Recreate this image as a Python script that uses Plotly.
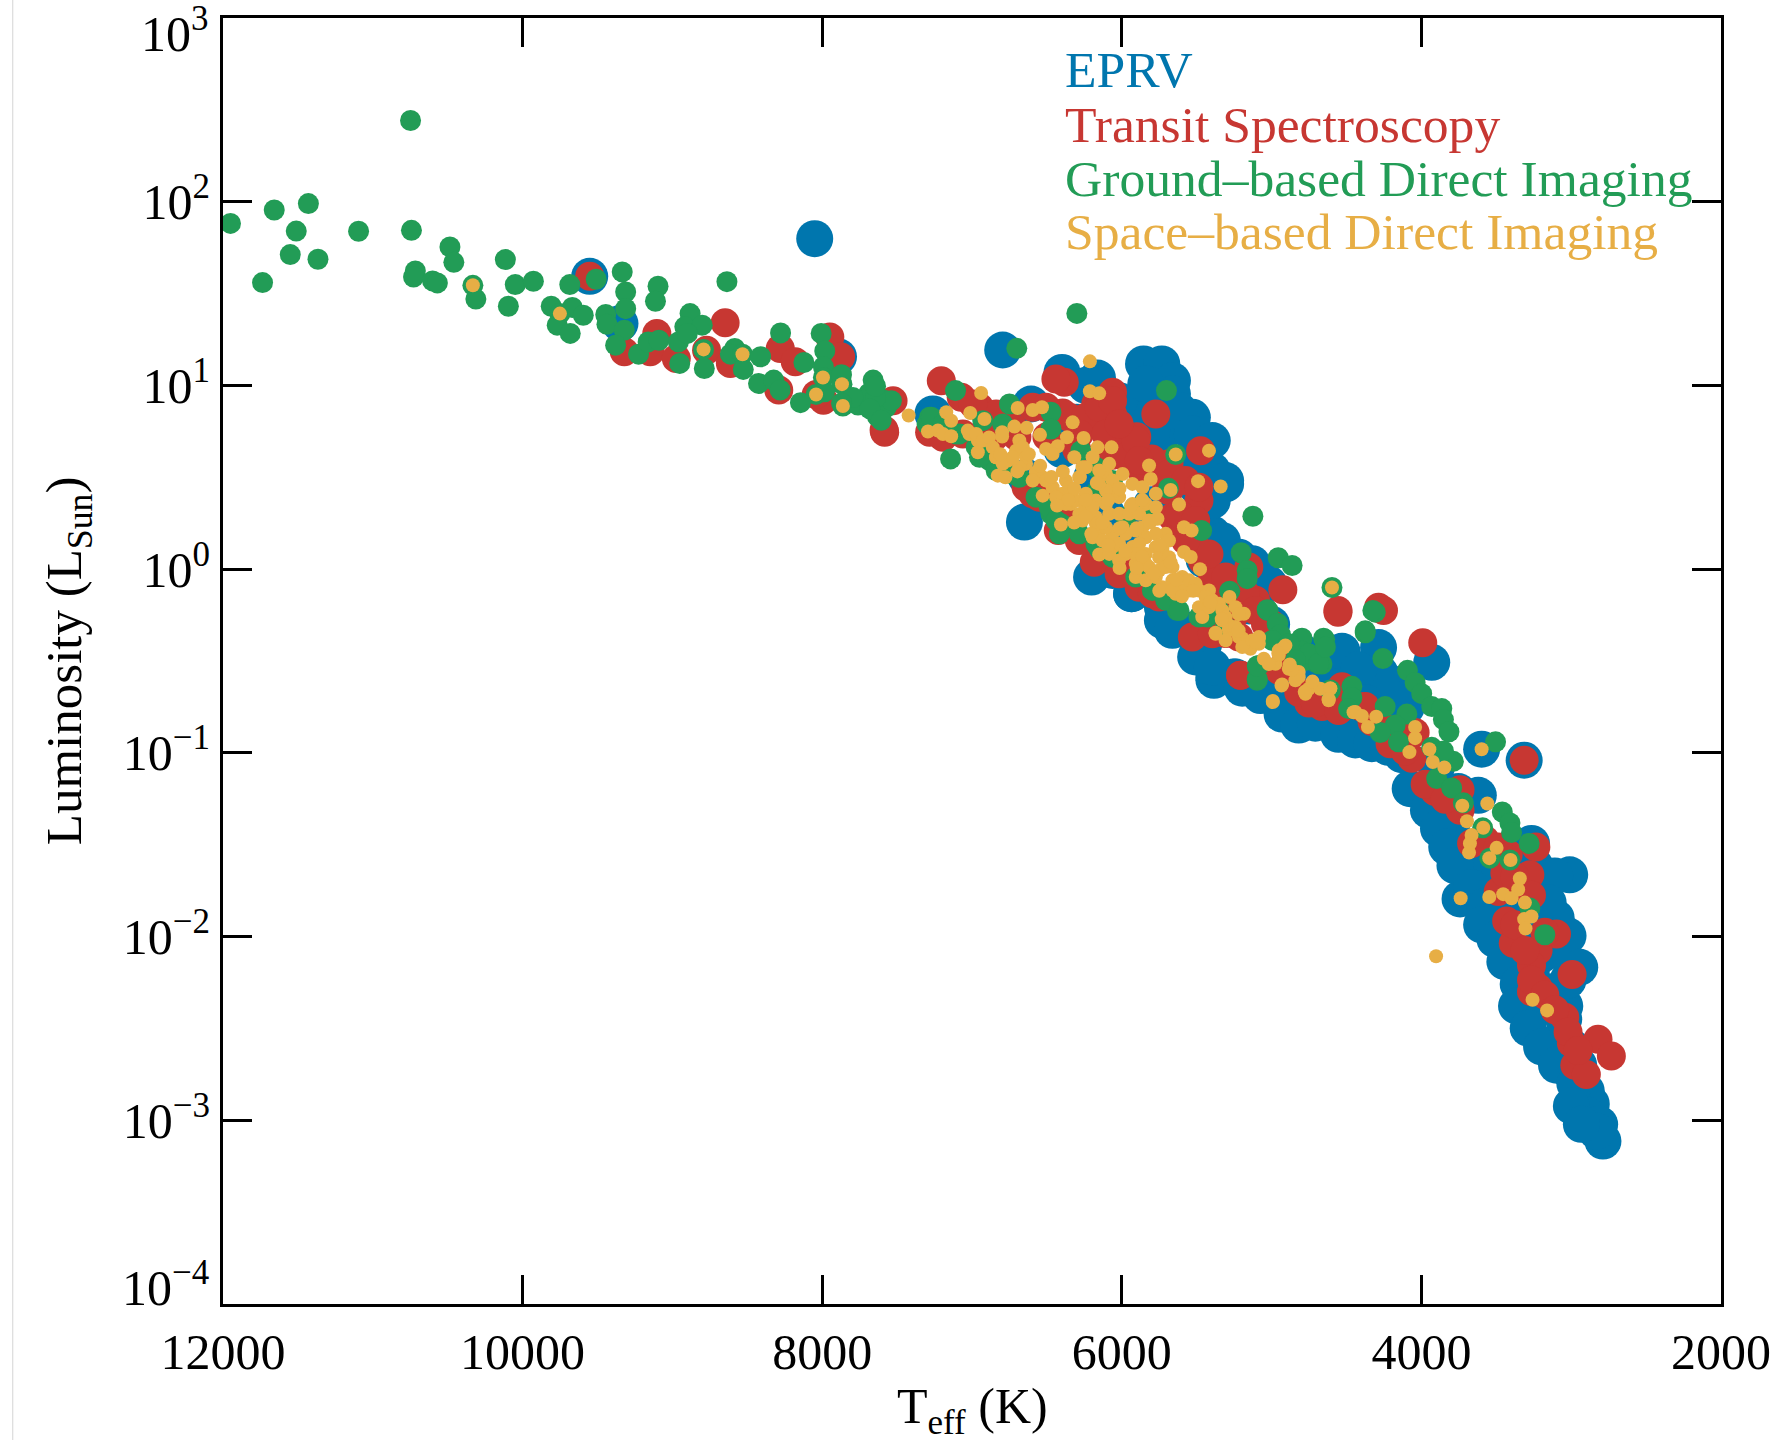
import plotly.graph_objects as go

eprv_teff = [8050,9552,9350,7891,6795,6399,6162,5855,5733,5662,5662,5862,5529,5485,5884,5729,5307,5485,6650,6202,5935,5596,5452,5385,5240,5296,5152,5396,5063,4530,4974,4841,6606,7261,6639,5729,6506,
 5385,5252,4986,4819,4619,4453,4220,4530,4286,3931,4275,4153,3598,3314,4075,3931,3798,3720,3665,3742,3509,3409,3265,3265,3243,3010,3110,3021,2943,3265,3043,3254,3187,2999,2899,2866,2888,2810,2788,2830,3753,3620,
 6100,6000,5900,5800,5600,5500,6300,6400,6200,6100,5950,5800,5600,5450,5350,5150,5000,4800,4700,4400,4100,4900,3900,3600,3500,3400,3300,3200,3100,3150,3050,3000,2950,
 6240,6018,5840,5618,5529,5396,5396,5307,5396,5329,5218,5130,5019,6062,5935,5729,5662,5507,5396,5196,5074,4930,4819,4708,4553,4441,4331,4220,4131,4530,4419,4175,4109,4708,4553,4375,4264,
 3953,3886,3831,3776,3665,3576,3598,3509,3443,3354,3365,3287,3198,3098,2976,2999,2932,3021,3132,3154]
eprv_log_lum = [1.799,1.594,1.337,1.156,1.193,1.071,1.04,1.117,1.117,1.026,.953,.935,.827,.663,.827,.736,.464,.573,.256,-.043,-.134,-.324,-.406,-.605,-.587,.093,.011,.192,-.043,-.488,-.705,-.77,.899,.845,.5,-.207,.373,
 -.587,-.587,-.668,-.809,-.829,-.899,-.95,-.467,-.427,-.507,-.567,-.688,-.98,-1.04,-1.195,-1.272,-1.412,-1.553,-1.664,-1.795,-1.936,-2.076,-2.177,-1.493,-1.614,-1.664,-1.67,-1.996,-2.167,-1.8,-2.378,-2.408,-2.59,-2.74,-2.841,-2.911,-2.972,-3.022,-3.113,-3.06,-1.211,-1.231,
 .9,.7,.6,.75,.55,.45,.8,.65,.5,.3,.2,.35,.25,.05,-.1,-.2,-.3,-.45,-.6,-.65,-.75,-.62,-1.08,-1.6,-1.7,-1.85,-1.95,-2.1,-1.9,-2.3,-2.45,-2.6,-2.7,
 1.0,.917,1.008,.863,.736,.7,.537,.482,.373,.156,.065,.03,-.08,-.007,-.134,-.279,-.333,-.478,-.533,-.648,-.688,-.789,-.849,-.839,-.899,-.93,-.95,-.97,-1.01,-.447,-.547,-.628,-.708,-.668,-.728,-.728,-.829,
 -1.312,-1.412,-1.513,-1.614,-1.734,-1.835,-1.936,-2.016,-2.137,-2.258,-2.378,-2.499,-2.6,-2.7,-2.8,-2.922,-3.022,-2.237,-2.076,-1.815]

transit_teff = [9552,8648,9321,9104,9148,8974,8772,8613,8280,8180,8290,7949,7877,7992,8040,7587,
 7205,7583,7527,7072,6950,7283,7194,6384,6440,6062,6173,6062,5773,5973,6195,6351,6595,5474,5685,5485,5685,5662,6595,6424,6184,5463,5929,5152,4925,4557,5751,5329,5107,5529,5307,5207,4730,4508,4286,6395,5884,5396,6062,
 4557,4253,3991,5207,4752,4664,4530,4330,4209,4064,4042,3909,3742,3742,3576,3420,3236,3314,3276,3487,3431,3098,3387,3221,3265,3221,3265,3043,2994,2999,2821,2732,2976,2899,
 5900,5800,5700,6000,6300,6500,6700,6850,6900,5600,5250,5000,4850,4950,4400,4300,
 6240,6151,6062,6284,6106,5973,5907,6018,5884,6506,6728,6839,6994,7061,5685,5574,5485,5618,5507,5507,5418,5574,5307,5174,5107,5041,5884,5796,5396,5218,4819,4641,4508,6639,6550,6373,6284,6018,
 4708,4553,4375,4242,4109,3975,3842,3665,3487,3443,3376,3265,3376,3176,3309,3265,3176,3110,3021,2954]
transit_log_lum = [1.594,1.341,1.183,1.283,1.183,1.147,1.192,1.12,1.201,1.129,.975,1.264,1.156,.92,.951,.757,
 1.026,.745,.917,.935,.881,.745,.718,1.017,1.035,.963,.9,.845,.845,.7,.79,.827,.881,.645,.573,.373,.428,.283,.41,.21,.038,.047,0,.011,-.112,-.234,-.152,-.098,-.17,-.37,-.35,-.578,-.696,-.66,-.207,.85,.555,-.04,.62,
 -.225,-.225,-.4,-.577,-.728,-.748,-.64,-.829,-.95,-1.03,-.889,-1.211,-1.201,-1.312,-1.473,-1.55,-1.513,-1.04,-1.664,-1.755,-1.915,-1.986,-2.036,-2.076,-2.157,-2.278,-2.3,-2.439,-2.207,-2.579,-2.559,-2.65,-2.7,-2.751,
 .72,.6,.45,.75,.65,.72,.72,.72,.66,.22,-.25,-.3,-.5,-.55,-.75,-.8,
 .827,.881,.917,.736,.736,.609,.7,.79,.591,.881,.772,.845,.899,.736,.518,.482,.446,.301,.265,.12,.083,.156,-.043,-.134,-.225,-.297,-.098,-.134,-.352,-.37,-.67,-.714,-.678,.446,.392,.265,.156,-.025,
 -.728,-.769,-.748,-.869,-.99,-1.171,-1.252,-1.493,-1.513,-1.654,-1.674,-1.775,-1.936,-1.976,-2.076,-2.237,-2.318,-2.398,-2.519,-2.62]

ground_teff = [11950,11658,11430,11511,11095,10742,10748,11551,11366,11736,10485,10459,10716,10728,10601,10569,10332,10312,10115,10049,9928,10095,9685,9509,9335,9312,9096,9113,8636,9809,9751,9668,9595,9769,9682,9312,9445,9437,9321,9379,9226,9162,9090,8882,8917,8801,8960,8900,8951,8787,8792,8584,8613,8532,8411,8527,8425,8324,8281,8278,8007,7983,8122,7992,7992,7868,8041,8145,7862,7761,7660,7689,7631,7587,
 6300,6701,7110,7572,7538,7283,7300,6750,6473,6473,6795,6928,7105,7143,6972,6883,6728,5702,5640,5689,5125,5467,5203,5163,5163,4956,4863,4597,5280,5023,4963,4801,4646,4308,4375,4708,5096,5085,5629,5485,6406,6473,6273,6173,6062,5973,5829,6173,6306,6417,6151,5796,5350,
 5030,4959,4941,4797,4653,4797,4775,4664,5096,5096,4324,4375,4257,4093,4042,3998,3931,3864,3853,3816,4097,4175,4275,4153,4242,4464,4464,4486,4608,3505,3931,3787,3853,3898,3798,3720,3591,3460,3409,3398,3281,3543,3409,3276,3176,
 7871,7985,7795,7644,7644,7682,7606,7871,6950,6839,6684,6573,6484,6439,6284,6173,6062,5907,5707,5618,5429,5307,4996,4885,4752,4686,4841,4641,7272,7194,7083]
ground_log_lum = [1.882,1.955,1.99,1.84,1.839,1.844,2.442,1.712,1.687,1.56,1.754,1.67,1.623,1.59,1.569,1.558,1.545,1.47,1.685,1.549,1.567,1.431,1.549,1.578,1.618,1.509,1.54,1.458,1.565,1.431,1.391,1.424,1.382,1.328,1.283,1.418,1.386,1.333,1.301,1.219,1.17,1.237,1.246,1.391,1.319,1.328,1.237,1.283,1.12,1.092,1.196,1.201,1.17,1.17,1.156,1.087,1.011,1.029,.975,1.286,1.283,1.188,1.125,1.101,1.043,1.007,.951,.906,.888,.893,1.029,.957,.83,.92,
 1.392,1.202,.972,.881,.917,.827,.79,.899,.854,.763,.79,.808,.736,.6,.664,.591,.518,.972,.624,.44,.288,.21,.089,-.007,-.052,.062,.02,-.1,-.12,-.225,-.297,-.379,-.382,-.234,-.346,-.506,-.605,-.524,-.225,-.26,.247,.3,.645,.555,.482,.283,.319,.419,.228,.192,.11,-.116,-.225,
 -.221,-.296,-.356,-.376,-.376,-.447,-.497,-.517,-.598,-.527,-.225,-.336,-.487,-.551,-.618,-.678,-.748,-.759,-.819,-.885,-.789,-.849,-.889,-.94,-.748,-.638,-.698,-.759,-.658,-.94,-.97,-1.046,-.99,-1.14,-1.191,-1.272,-1.408,-1.322,-1.382,-1.433,-1.493,-1.573,-1.583,-1.845,-1.99,
 1.058,.965,.934,.934,.996,.872,.81,.903,.609,.537,.5,.392,.337,.265,.192,.138,.065,-.043,-.17,-.225,-.261,-.315,-.388,-.406,-.46,-.515,-.496,-.424,.827,.79,.736]

space_teff = [10332,9751,8792,8532,7995,7868,8041,7862,
 7423,7294,7228,7194,7139,7172,7139,6939,7012,6917,7028,6961,6961,6695,6595,6533,6213,6213,6151,6328,6717,6635,6799,6799,6546,6366,6255,6069,6162,6428,6506,6462,6684,6706,6761,6839,6828,6777,6528,6406,5818,5807,5640,5418,5674,5491,5340,5618,5585,5534,5585,5540,6151,4597,4934,4992,5478,5707,
 6639,6573,6528,6462,6395,6340,6284,6262,6317,6195,6084,6106,5995,5929,5862,5773,5840,5773,5762,5929,6018,6173,6240,6373,6173,6084,6151,6195,6062,5995,5907,5840,6062,5973,5907,5840,5729,5685,5818,5907,5840,5751,5662,5596,5729,5640,5551,5485,5418,5396,5485,5463,5352,5281,5241,5185,5329,5285,5374,5218,5174,5085,5085,5141,5052,4952,4908,4974,4885,4819,4841,4752,4774,4675,4608,4619,4441,
 4930,4992,4453,4397,4302,4357,4042,4042,4080,3947,3924,3847,3727,3560,3696,3587,3665,3676,3682,3498,3547,3405,3343,3354,3454,3398,3547,3738,3309,3265,3314,3305,3902,3258,3161,3598,4608,4619,4779,4819,4863,4952,5019,4919,5085,5141,5196,5285,5374,5219,
 7017,6972,6928,6861,6839,6795,6728,6661,6639,6684,6595,6506,6439,6373,6306,6240,6262,6351,6284,6240,6151,6062,6040,6106,6151,6195,6106,6018,5951,5884,5818,5862,5973,6106,6173,6129,6018,6084,6018,5929,5884,5773,5773,5907,5840,5751,5685,5707,5773,5662,5596,5662,5551,5507,5440,5418,5329,5307,5241,5307,5196,5130,
 6621,6545,6470,6394,6318,6242,6280,6167,6091,6015,5939,5864,5811,5901,6015,6129,6242,6356,6091,5977,5864,5750,5674,5788,5901,6015,5636,5750,5523,5409,5598,5333,5220,5106,4955,4879,4727,6204,6318,6432,6697,6811,6886]
space_log_lum = [1.545,1.391,1.196,1.17,1.043,1.007,.951,.888,
 .836,.749,.754,.736,.723,.854,.808,.959,.85,.817,.754,.7,.636,.877,.866,.881,1.131,.968,.957,.799,.776,.769,.745,.722,.731,.718,.714,.663,.663,.669,.654,.627,.7,.645,.591,.609,.509,.5,.4,.243,.564,.491,.624,.645,.431,.479,.45,.352,.228,.21,.093,.066,.08,-.1,-.633,-.723,0,.192,
 .573,.528,.5,.446,.41,.355,.3,.555,.609,.609,.573,.518,.518,.464,.446,.41,.355,.337,.274,.355,.392,.373,.41,.482,.283,.301,.21,.174,.192,.228,.21,.174,.12,.083,.029,.083,.111,.156,.011,-.043,-.061,-.007,.011,-.043,-.098,-.134,-.116,-.116,-.116,-.17,-.207,-.261,-.188,-.152,-.207,-.243,-.279,-.333,-.352,-.37,-.406,-.37,-.406,-.433,-.488,-.442,-.415,-.515,-.542,-.56,-.605,-.651,-.678,-.651,-.651,-.714,-.777,
 -.628,-.718,-.779,-.799,-.803,-.859,-.859,-.92,-.996,-.98,-1.05,-1.08,-1.288,-1.276,-1.372,-1.408,-1.447,-1.493,-1.543,-1.517,-1.573,-1.583,-1.684,-1.744,-1.769,-1.791,-1.785,-1.791,-1.815,-1.891,-1.905,-1.956,-2.107,-2.344,-2.402,-.98,-.648,-.708,-.668,-.588,-.547,-.467,-.517,-.427,-.376,-.417,-.376,-.306,-.346,-.245,
 .736,.736,.7,.663,.609,.573,.609,.663,.609,.555,.482,.482,.392,.355,.373,.337,.265,.446,.5,.555,.537,.482,.428,.428,.464,.337,.355,.301,.301,.301,.265,.228,.192,.228,.247,.156,.138,.083,.047,.12,.138,.192,.12,.083,.029,.065,.065,.011,-.043,-.061,-.116,-.116,-.061,-.08,-.152,-.207,-.225,-.261,-.315,-.388,-.424,-.388,
 .625,.563,.501,.532,.439,.377,.501,.47,.377,.439,.346,.377,.254,.223,.223,.254,.285,.377,.13,.099,.068,.13,.037,-.025,.006,.006,-.056,-.118,-.118,-.179,-.148,-.272,-.334,-.396,-.458,-.519,-.612,.192,.254,.346,.532,.625,.717]

series_names = ["EPRV", "Transit Spectroscopy", "Ground–based Direct Imaging", "Space–based Direct Imaging"]
series_teff = [eprv_teff, transit_teff, ground_teff, space_teff]
series_log = [eprv_log_lum, transit_log_lum, ground_log_lum, space_log_lum]
colors = ["#0076AE", "#C73732", "#229C56", "#E7AE45"]
sizes = [37, 29, 21, 14]
x_ticks = [12000, 10000, 8000, 6000, 4000, 2000]
y_ticks = [1e3, 1e2, 1e1, 1e0, 1e-1, 1e-2, 1e-3, 1e-4]
y_text = ["", "10<sup>2</sup>", "10<sup>1</sup>", "10<sup>0</sup>", "10<sup>−1</sup>", "10<sup>−2</sup>", "10<sup>−3</sup>", ""]

W, H = 1783, 1440
L, R, T, B = 223, 60, 18, 136
FONT = "Liberation Serif"

fig = go.Figure()
for name, xs, ls, c, s in zip(series_names, series_teff, series_log, colors, sizes):
    fig.add_trace(go.Scatter(x=xs, y=[10 ** v for v in ls], mode="markers", name=name,
                             marker=dict(color=c, size=s, line=dict(width=0)), cliponaxis=True))

axis_common = dict(showgrid=False, zeroline=False, showline=True, linecolor="#000", linewidth=3,
                   mirror="ticks", ticks="inside", ticklen=29, tickwidth=3, tickcolor="#000",
                   tickfont=dict(family=FONT, size=50, color="#000"))
fig.update_xaxes(range=[12000, 2000], tickmode="array", tickvals=x_ticks,
                 ticktext=[str(v) for v in x_ticks], ticklabelstandoff=2, **axis_common)
fig.update_yaxes(type="log", range=[-4, 3], tickmode="array", tickvals=y_ticks, ticktext=y_text, **axis_common)

annotations = []
for i, (name, c) in enumerate(zip(series_names, colors)):
    annotations.append(dict(text=name, font=dict(family=FONT, size=51.6, color=c), x=(1064 - L) / (W - L - R),
                            y=1 - ([69, 124, 178, 232][i] - T) / (H - T - B), xref="paper", yref="paper",
                            xanchor="left", yanchor="middle", showarrow=False))
annotations += [
    dict(text="10<sup>3</sup>", font=dict(family=FONT, size=50, color="#000"), x=0, y=3, xref="paper", yref="y",
         xanchor="right", yanchor="middle", xshift=-12, yshift=-12, showarrow=False),
    dict(text="10<sup>−4</sup>", font=dict(family=FONT, size=50, color="#000"), x=0, y=-4, xref="paper", yref="y",
         xanchor="right", yanchor="middle", xshift=-12, yshift=20, showarrow=False),
    dict(text="T<sub>eff</sub> (K)", font=dict(family=FONT, size=50, color="#000"), x=0.5, y=1 - (1410 - T) / (H - T - B),
         xref="paper", yref="paper", xanchor="center", yanchor="middle", showarrow=False),
    dict(text="Luminosity (L<sub>Sun</sub>)", font=dict(family=FONT, size=51, color="#000"), textangle=-90,
         x=(68 - L) / (W - L - R), y=0.5, xref="paper", yref="paper", xanchor="center", yanchor="middle", showarrow=False),
]

fig.update_layout(width=W, height=H, margin=dict(l=L, r=R, t=T, b=B, pad=0), showlegend=False,
                  plot_bgcolor="#fff", paper_bgcolor="#fff", annotations=annotations,
                  shapes=[dict(type="line", xref="paper", yref="paper", x0=(12.5 - L) / (W - L - R), x1=(12.5 - L) / (W - L - R),
                               y0=-B / (H - T - B), y1=1 + T / (H - T - B), line=dict(color="#D4D4D4", width=1))])

fig.write_html("out.html", config=dict(displayModeBar=False),
               post_script="document.body.style.margin='0';document.documentElement.style.overflow='hidden';")
